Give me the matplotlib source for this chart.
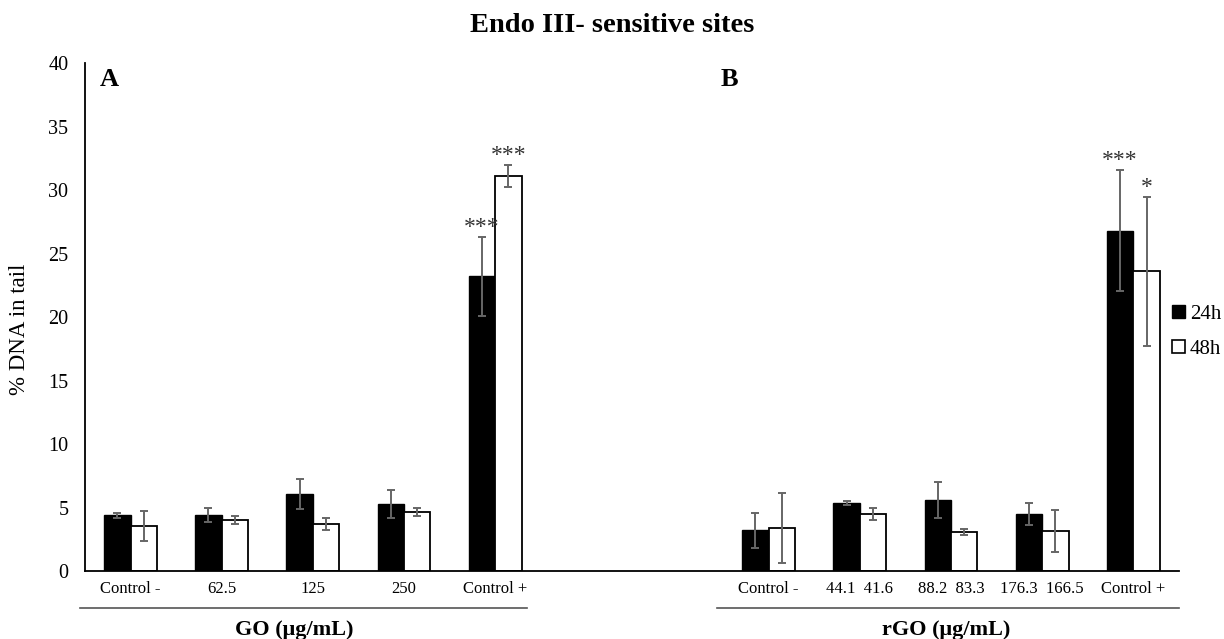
import numpy as np
import matplotlib
matplotlib.use("Agg")
import matplotlib.pyplot as plt
from matplotlib.patches import Patch

plt.rcParams['font.family'] = ['Liberation Serif', 'DejaVu Serif']

# GO panel (A)
go_labels = ['Control -', '62.5', '125', '250', 'Control +']
go_24h = [4.4, 4.4, 6.05, 5.3, 23.2]
go_24h_err = [0.2, 0.55, 1.2, 1.1, 3.1]
go_48h = [3.55, 4.0, 3.7, 4.65, 31.1]
go_48h_err = [1.15, 0.3, 0.45, 0.3, 0.9]
go_stars_24h = ['', '', '', '', '***']
go_stars_48h = ['', '', '', '', '***']

# rGO panel (B)
rgo_labels = ['Control -', '44.1  41.6', '88.2  83.3', '176.3  166.5', 'Control +']
rgo_24h = [3.2, 5.35, 5.6, 4.5, 26.8]
rgo_24h_err = [1.35, 0.15, 1.4, 0.85, 4.75]
rgo_48h = [3.4, 4.5, 3.05, 3.15, 23.6]
rgo_48h_err = [2.75, 0.45, 0.25, 1.65, 5.85]
rgo_stars_24h = ['', '', '', '', '***']
rgo_stars_48h = ['', '', '', '', '*']

fig = plt.figure(figsize=(12.24, 6.39), dpi=100)
ax = fig.add_axes([0.0694, 0.1064, 0.8938, 0.795])

w = 0.29
err_kw = dict(ecolor='#666666', elinewidth=1.4, capsize=3, capthick=1.4)
pos_a = np.arange(len(go_labels))
pos_b = np.arange(len(rgo_labels)) + 7

for pos, v24, e24, v48, e48, s24, s48 in [
        (pos_a, go_24h, go_24h_err, go_48h, go_48h_err, go_stars_24h, go_stars_48h),
        (pos_b, rgo_24h, rgo_24h_err, rgo_48h, rgo_48h_err, rgo_stars_24h, rgo_stars_48h)]:
    ax.bar(pos - w / 2, v24, w, color='black', edgecolor='black', linewidth=1.0,
           yerr=e24, error_kw=err_kw, zorder=2)
    ax.bar(pos + w / 2, v48, w, color='white', edgecolor='black', linewidth=1.3,
           yerr=e48, error_kw=err_kw, zorder=2)
    for i in range(len(pos)):
        if s24[i]:
            ax.text(pos[i] - w / 2, v24[i] + e24[i] + 0.75, s24[i], ha='center',
                    va='center', fontsize=17, color='#333333')
        if s48[i]:
            ax.text(pos[i] + w / 2, v48[i] + e48[i] + 0.75, s48[i], ha='center',
                    va='center', fontsize=17, color='#333333')

ax.set_xlim(-0.5, 11.5)
ax.set_ylim(0, 40)
ax.set_yticks(np.arange(0, 41, 5))
ax.set_xticks(np.concatenate([pos_a, pos_b]))
ax.set_xticklabels(go_labels + rgo_labels, fontsize=12)
ax.tick_params(axis='x', length=0, pad=7)
ax.tick_params(axis='y', length=0, pad=12, labelsize=14.5)
for side in ['top', 'right']:
    ax.spines[side].set_visible(False)
for side in ['left', 'bottom']:
    ax.spines[side].set_linewidth(1.3)

ax.set_ylabel('% DNA in tail', fontsize=16.5)
ax.yaxis.set_label_coords(-0.05, 0.476)

# category group lines and titles
trans = ax.get_xaxis_transform()
ax.plot([-0.55, 4.35], [-0.073, -0.073], color='#555555', lw=1.2, transform=trans, clip_on=False)
ax.plot([6.43, 11.5], [-0.073, -0.073], color='#555555', lw=1.2, transform=trans, clip_on=False)
ax.text(pos_a.mean() - 0.2, -0.116, 'GO (μg/mL)', transform=trans, ha='center', va='center',
        fontsize=16, fontweight='bold')
ax.text(pos_b.mean() - 0.05, -0.116, 'rGO (μg/mL)', transform=trans, ha='center', va='center',
        fontsize=16, fontweight='bold')

ax.text(-0.34, 38.7, 'A', ha='left', va='center', fontsize=19, fontweight='bold')
ax.text(6.47, 38.7, 'B', ha='left', va='center', fontsize=19, fontweight='bold')

fig.suptitle('Endo III- sensitive sites', x=0.5, y=1 - 26 / 639, va='center',
             fontsize=20.5, fontweight='bold')

handles = [Patch(facecolor='black', edgecolor='black', label='24h'),
           Patch(facecolor='white', edgecolor='black', linewidth=1.2, label='48h')]
fig.legend(handles=handles, loc='center left', bbox_to_anchor=(1172 / 1224, 1 - 332 / 639),
           frameon=False, fontsize=15, handlelength=0.6, handleheight=0.6,
           handletextpad=0.25, labelspacing=0.75, borderpad=0, borderaxespad=0)

fig.savefig('out.png', dpi=100)
